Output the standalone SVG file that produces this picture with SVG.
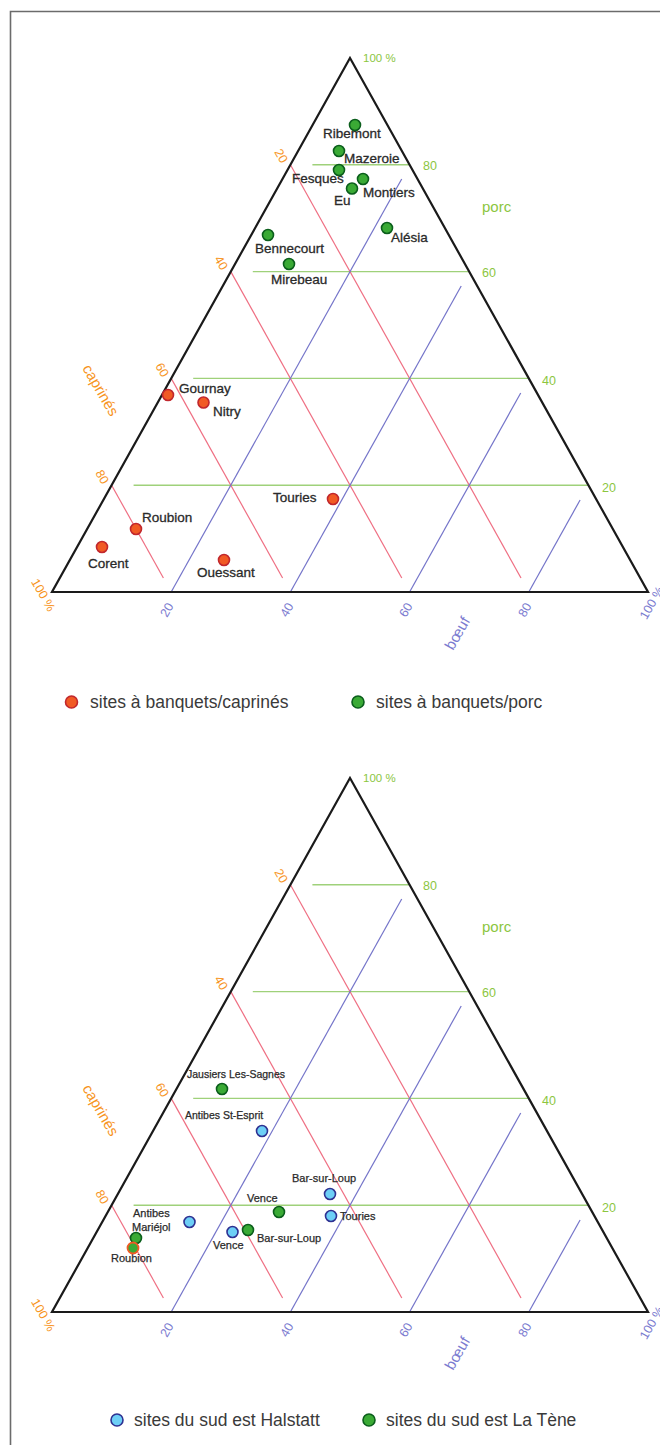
<svg xmlns="http://www.w3.org/2000/svg" xmlns:xlink="http://www.w3.org/1999/xlink" width="660" height="1445" viewBox="0 0 660 1445">
<style>
.frame{fill:none;stroke:#6b6b6b;stroke-width:1.6}
.tri{fill:none;stroke:#1a1a1a;stroke-width:2.2;stroke-linejoin:miter}
.gp{stroke:#9fd17a;stroke-width:1.4}
.rc{stroke:#ef6f83;stroke-width:1.2}
.bb{stroke:#7474c9;stroke-width:1.2}
text{font-family:"Liberation Sans",Arial,sans-serif}
.tg{fill:#8cc63f;font-size:12.5px}
.to{fill:#f7941d;font-size:12.5px}
.tb{fill:#7b7bd0;font-size:12.5px}
.big{font-size:15px}
.lbl{fill:#2a2a2a;stroke:#2a2a2a;stroke-width:0.3;font-size:13.5px}
.lbs{fill:#2a2a2a;stroke:#2a2a2a;stroke-width:0.25;font-size:11px}
.lbt{fill:#2a2a2a;stroke:#2a2a2a;stroke-width:0.25;font-size:10.5px}
.leg{fill:#3a3a3a;font-size:17.5px}
.po{fill:#f15a24;stroke:#c1272d;stroke-width:1.6}
.pg{fill:#3aaa35;stroke:#0b5e1c;stroke-width:1.6}
.pb{fill:#6dcff6;stroke:#2e3192;stroke-width:1.6}
.pr{fill:#3aaa35;stroke:#f15a24;stroke-width:1.8}
</style>
<defs>
<g id="grid">
<line class="gp" x1="133.6" y1="485.2" x2="588.4" y2="485.2"/>
<line class="gp" x1="193.2" y1="378.4" x2="528.8" y2="378.4"/>
<line class="gp" x1="252.8" y1="271.6" x2="469.2" y2="271.6"/>
<line class="gp" x1="312.4" y1="164.8" x2="409.6" y2="164.8"/>
<line class="rc" x1="290.4" y1="164.8" x2="521" y2="578"/>
<line class="rc" x1="230.8" y1="271.6" x2="401.8" y2="578"/>
<line class="rc" x1="171.2" y1="378.4" x2="282.6" y2="578"/>
<line class="rc" x1="111.6" y1="485.2" x2="163.4" y2="578"/>
<line class="bb" x1="171.2" y1="592" x2="401.7" y2="179"/>
<line class="bb" x1="290.4" y1="592" x2="461.2" y2="286"/>
<line class="bb" x1="409.6" y1="592" x2="520.7" y2="393"/>
<line class="bb" x1="528.8" y1="592" x2="580.1" y2="500"/>
<polygon class="tri" points="350,58 648,592 52,592"/>
<text class="tg" x="363" y="62" style="font-size:11.5px">100 %</text>
<text class="tg" x="423" y="170">80</text>
<text class="tg" x="482" y="277">60</text>
<text class="tg" x="542" y="385">40</text>
<text class="tg" x="602" y="492">20</text>
<text class="tg big" x="482" y="212">porc</text>
<g text-anchor="middle" dominant-baseline="central">
<text class="to" transform="translate(281,156) rotate(60)">20</text>
<text class="to" transform="translate(221,263) rotate(60)">40</text>
<text class="to" transform="translate(162,370) rotate(60)">60</text>
<text class="to" transform="translate(102,477) rotate(60)">80</text>
<text class="to" transform="translate(43,595) rotate(60)">100 %</text>
<text class="to big" transform="translate(101,390) rotate(60)">caprinés</text>
<text class="tb" transform="translate(167,610) rotate(-60)">20</text>
<text class="tb" transform="translate(287,610) rotate(-60)">40</text>
<text class="tb" transform="translate(406,610) rotate(-60)">60</text>
<text class="tb" transform="translate(525,610) rotate(-60)">80</text>
<text class="tb" transform="translate(652,603) rotate(-60)">100 %</text>
<text class="tb big" transform="translate(457,633) rotate(-60)">bœuf</text>
</g>
</g>
</defs>
<path class="frame" d="M10.5 1445 V11.5 H660"/>
<g id="diagram-top">
<use xlink:href="#grid"/>
</g>
<g id="points-top">
<g id="ribemont"><text class="lbl" x="323" y="138">Ribemont</text><circle class="pg" cx="355" cy="125" r="5.5"/></g>
<g id="mazeroie"><text class="lbl" x="344" y="163">Mazeroie</text><circle class="pg" cx="339" cy="151" r="5.5"/></g>
<g id="fesques"><text class="lbl" x="292" y="183">Fesques</text><circle class="pg" cx="339" cy="170" r="5.5"/></g>
<g id="montiers"><text class="lbl" x="363" y="197">Montiers</text><circle class="pg" cx="363" cy="179" r="5.5"/></g>
<g id="eu"><text class="lbl" x="334" y="205">Eu</text><circle class="pg" cx="352" cy="188.5" r="5.5"/></g>
<g id="alesia"><text class="lbl" x="391" y="242">Alésia</text><circle class="pg" cx="387" cy="228" r="5.5"/></g>
<g id="bennecourt"><text class="lbl" x="255" y="253">Bennecourt</text><circle class="pg" cx="268" cy="235" r="5.5"/></g>
<g id="mirebeau"><text class="lbl" x="271" y="284">Mirebeau</text><circle class="pg" cx="289" cy="264" r="5.5"/></g>
<g id="gournay"><text class="lbl" x="179" y="393">Gournay</text><circle class="po" cx="168" cy="395" r="5.5"/></g>
<g id="nitry"><text class="lbl" x="213" y="416">Nitry</text><circle class="po" cx="203.5" cy="402.5" r="5.5"/></g>
<g id="touries"><text class="lbl" x="273" y="502">Touries</text><circle class="po" cx="333" cy="499" r="5.5"/></g>
<g id="roubion"><text class="lbl" x="142" y="522">Roubion</text><circle class="po" cx="136" cy="529" r="5.5"/></g>
<g id="corent"><text class="lbl" x="88" y="568">Corent</text><circle class="po" cx="102" cy="547" r="5.5"/></g>
<g id="ouessant"><text class="lbl" x="197" y="577">Ouessant</text><circle class="po" cx="224" cy="560" r="5.5"/></g>
</g>
<g id="legend-top">
<circle class="po" cx="71.5" cy="702" r="6"/>
<text class="leg" x="90" y="708">sites à banquets/caprinés</text>
<circle class="pg" cx="358" cy="702" r="6"/>
<text class="leg" x="376" y="708">sites à banquets/porc</text>
</g>
<g id="diagram-bottom">
<use xlink:href="#grid" y="720"/>
</g>
<g id="points-bottom">
<g id="jausiers"><text class="lbt" x="187" y="1078">Jausiers Les-Sagnes</text><circle class="pg" cx="222" cy="1089" r="5.5"/></g>
<g id="antibes-st-esprit"><text class="lbt" x="185" y="1119">Antibes St-Esprit</text><circle class="pb" cx="262" cy="1131" r="5.5"/></g>
<g id="bar-sur-loup-h"><text class="lbs" x="292" y="1182">Bar-sur-Loup</text><circle class="pb" cx="330" cy="1194" r="5.5"/></g>
<g id="vence-lt"><text class="lbs" x="247" y="1202">Vence</text><circle class="pg" cx="279" cy="1212" r="5.5"/></g>
<g id="touries-h"><text class="lbs" x="340" y="1220">Touries</text><circle class="pb" cx="331" cy="1216" r="5.5"/></g>
<g id="antibes-mariejol"><text class="lbs" x="133" y="1217">Antibes</text><text class="lbs" x="132" y="1231">Mariéjol</text><circle class="pb" cx="189.5" cy="1222" r="5.5"/></g>
<g id="vence-h"><text class="lbs" x="213" y="1249">Vence</text><circle class="pb" cx="232.5" cy="1232" r="5.5"/></g>
<g id="bar-sur-loup-lt"><text class="lbs" x="257" y="1242">Bar-sur-Loup</text><circle class="pg" cx="248" cy="1230" r="5.5"/></g>
<g id="roubion-b"><text class="lbs" x="111" y="1262">Roubion</text><circle class="pg" cx="136" cy="1238" r="5.5"/><circle class="pr" cx="133" cy="1248" r="5.5"/></g>
</g>
<g id="legend-bottom">
<circle class="pb" cx="117" cy="1420" r="6"/>
<text class="leg" x="134" y="1426">sites du sud est Halstatt</text>
<circle class="pg" cx="369" cy="1420" r="6"/>
<text class="leg" x="386" y="1426">sites du sud est La Tène</text>
</g>
</svg>
